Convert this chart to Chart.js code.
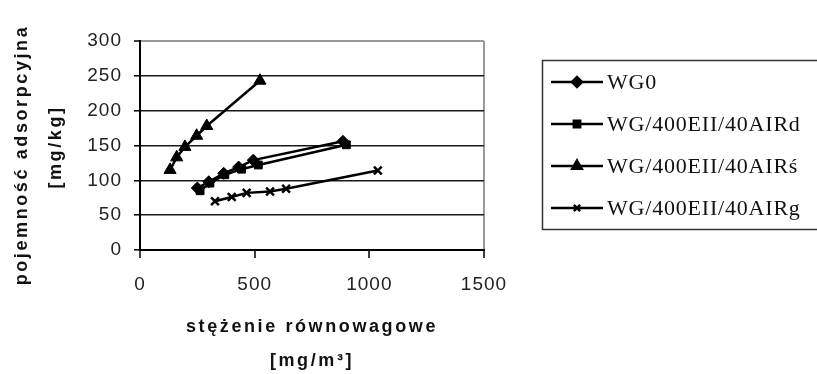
<!DOCTYPE html>
<html>
  <head>
    <meta charset="utf-8">
    <title>Pojemność adsorpcyjna</title>
<script src="https://cdn.jsdelivr.net/npm/chart.js@4.4.0/dist/chart.umd.min.js"></script>
<style>
  html, body { margin: 0; padding: 0; background: #fff; }
  #wrap { position: relative; width: 817px; height: 374px; }
</style>
  </head>
  <body>
  <div id="wrap"><canvas id="gr1"></canvas></div>
    <script>

// data
const names = ["WG0", "WG/400EII/40AIRd", "WG/400EII/40AIRś", "WG/400EII/40AIRg"];
const wg0X = [250, 300, 365, 430, 494, 885];
const wg0Y = [89, 98, 110, 119, 129, 156];
const airdX = [262, 305, 370, 443, 516, 900];
const airdY = [85, 96, 108, 116, 122, 151];
const airsX = [131, 160, 196, 247, 291, 523];
const airsY = [115, 133, 148, 164, 178, 243];
const airgX = [327, 400, 465, 567, 637, 1037];
const airgY = [70, 76, 82, 84, 88, 114];
const xTicks = [0, 500, 1000, 1500];
const yTicks = [0, 50, 100, 150, 200, 250, 300];

const styles = ["rectRot", "rect", "triangle", "crossRot"];
const radii = [6, 5.5, 7, 5.5];
const legendRadii = [5, 4.5, 5.5, 4.5];

function pts(xs, ys) {
  return xs.map((x, i) => ({ x: x, y: ys[i] }));
}
const series = [pts(wg0X, wg0Y), pts(airdX, airdY), pts(airsX, airsY), pts(airgX, airgY)];

// axis titles + boxed legend, drawn on the canvas
const extras = {
  id: "extras",
  beforeDraw(chart) {
    chart.ctx.letterSpacing = "1px";
  },
  afterDraw(chart) {
    const ctx = chart.ctx;
    const a = chart.chartArea;
    ctx.save();
    ctx.fillStyle = "#111";
    ctx.textAlign = "center";
    ctx.textBaseline = "middle";
    ctx.font = "bold 18px 'Liberation Sans', Arial, sans-serif";
    ctx.letterSpacing = "2.6px";
    ctx.fillText("stężenie równowagowe", (a.left + a.right) / 2, 327);
    ctx.fillText("[mg/m³]", (a.left + a.right) / 2, 361);

    ctx.translate(22, 155);
    ctx.rotate(-Math.PI / 2);
    ctx.fillText("pojemność adsorpcyjna", 0, 0);
    ctx.fillText("[mg/kg]", 8, 34);
    ctx.restore();

    // legend
    ctx.save();
    ctx.letterSpacing = "0.8px";
    ctx.strokeStyle = "#333";
    ctx.lineWidth = 1.5;
    ctx.strokeRect(542.5, 60.5, 300, 169);
    ctx.font = "22px 'Liberation Serif', 'Times New Roman', serif";
    ctx.textAlign = "left";
    ctx.textBaseline = "middle";
    names.forEach((n, i) => {
      const y = 82 + i * 42;
      ctx.strokeStyle = "#000";
      ctx.lineWidth = 2.5;
      ctx.beginPath();
      ctx.moveTo(551, y);
      ctx.lineTo(603, y);
      ctx.stroke();
      ctx.fillStyle = "#000";
      Chart.helpers.drawPoint(ctx, {
        pointStyle: styles[i], radius: legendRadii[i], borderWidth: 2.5, rotation: 0
      }, 577, y);
      ctx.fillStyle = "#111";
      ctx.fillText(n, 607, y + 1);
    });
    ctx.restore();
  }
};

const datasets = series.map((d, i) => ({
  label: names[i],
  data: d,
  showLine: true,
  borderColor: "#000",
  backgroundColor: "#000",
  borderWidth: 2.5,
  pointStyle: styles[i],
  pointRadius: radii[i],
  pointBorderWidth: i === 3 ? 2.5 : 1,
  pointHoverRadius: radii[i]
}));

let config = {
  type: "scatter",
  data: { datasets: datasets },
  options: {
    responsive: false,
    animation: false,
    layout: { padding: { left: 0, top: 41, right: 333, bottom: 0 } },
    scales: {
      x: {
        type: "linear",
        min: 0,
        max: 1500,
        afterBuildTicks: s => { s.ticks = xTicks.map(v => ({ value: v })); },
        afterFit: s => { s.height = 124; },
        ticks: {
          color: "#222",
          padding: 15,
          callback: v => String(v),
          font: { family: "'Liberation Sans', Arial, sans-serif", size: 19 }
        },
        grid: {
          color: c => (c.tick && c.tick.value === 1500 ? "#999" : "rgba(0,0,0,0)"),
          lineWidth: 2,
          tickColor: "#000",
          tickLength: 8,
          tickWidth: 1.5
        },
        border: { color: "#000", width: 2 }
      },
      y: {
        type: "linear",
        min: 0,
        max: 300,
        afterBuildTicks: s => { s.ticks = yTicks.map(v => ({ value: v })); },
        afterFit: s => { s.width = 140; },
        ticks: {
          color: "#222",
          padding: 12,
          callback: v => String(v),
          font: { family: "'Liberation Sans', Arial, sans-serif", size: 19 }
        },
        grid: {
          color: c => (c.tick && c.tick.value === 300 ? "#999" : "#1a1a1a"),
          lineWidth: c => (c.tick && c.tick.value === 300 ? 2 : 1.6),
          tickColor: "#000",
          tickLength: 6,
          tickWidth: 1.5
        },
        border: { color: "#000", width: 2 }
      }
    },
    plugins: {
      legend: { display: false },
      tooltip: { enabled: false },
      title: { display: false }
    }
  },
  plugins: [extras]
};

var canv = document.getElementById("gr1");
canv.width = 817;
canv.height = 374;
canv.style.width = "817px";
canv.style.height = "374px";
var ctx = canv.getContext("2d");
let graph1 = new Chart(ctx, config);
    </script>
  </body>
</html>
